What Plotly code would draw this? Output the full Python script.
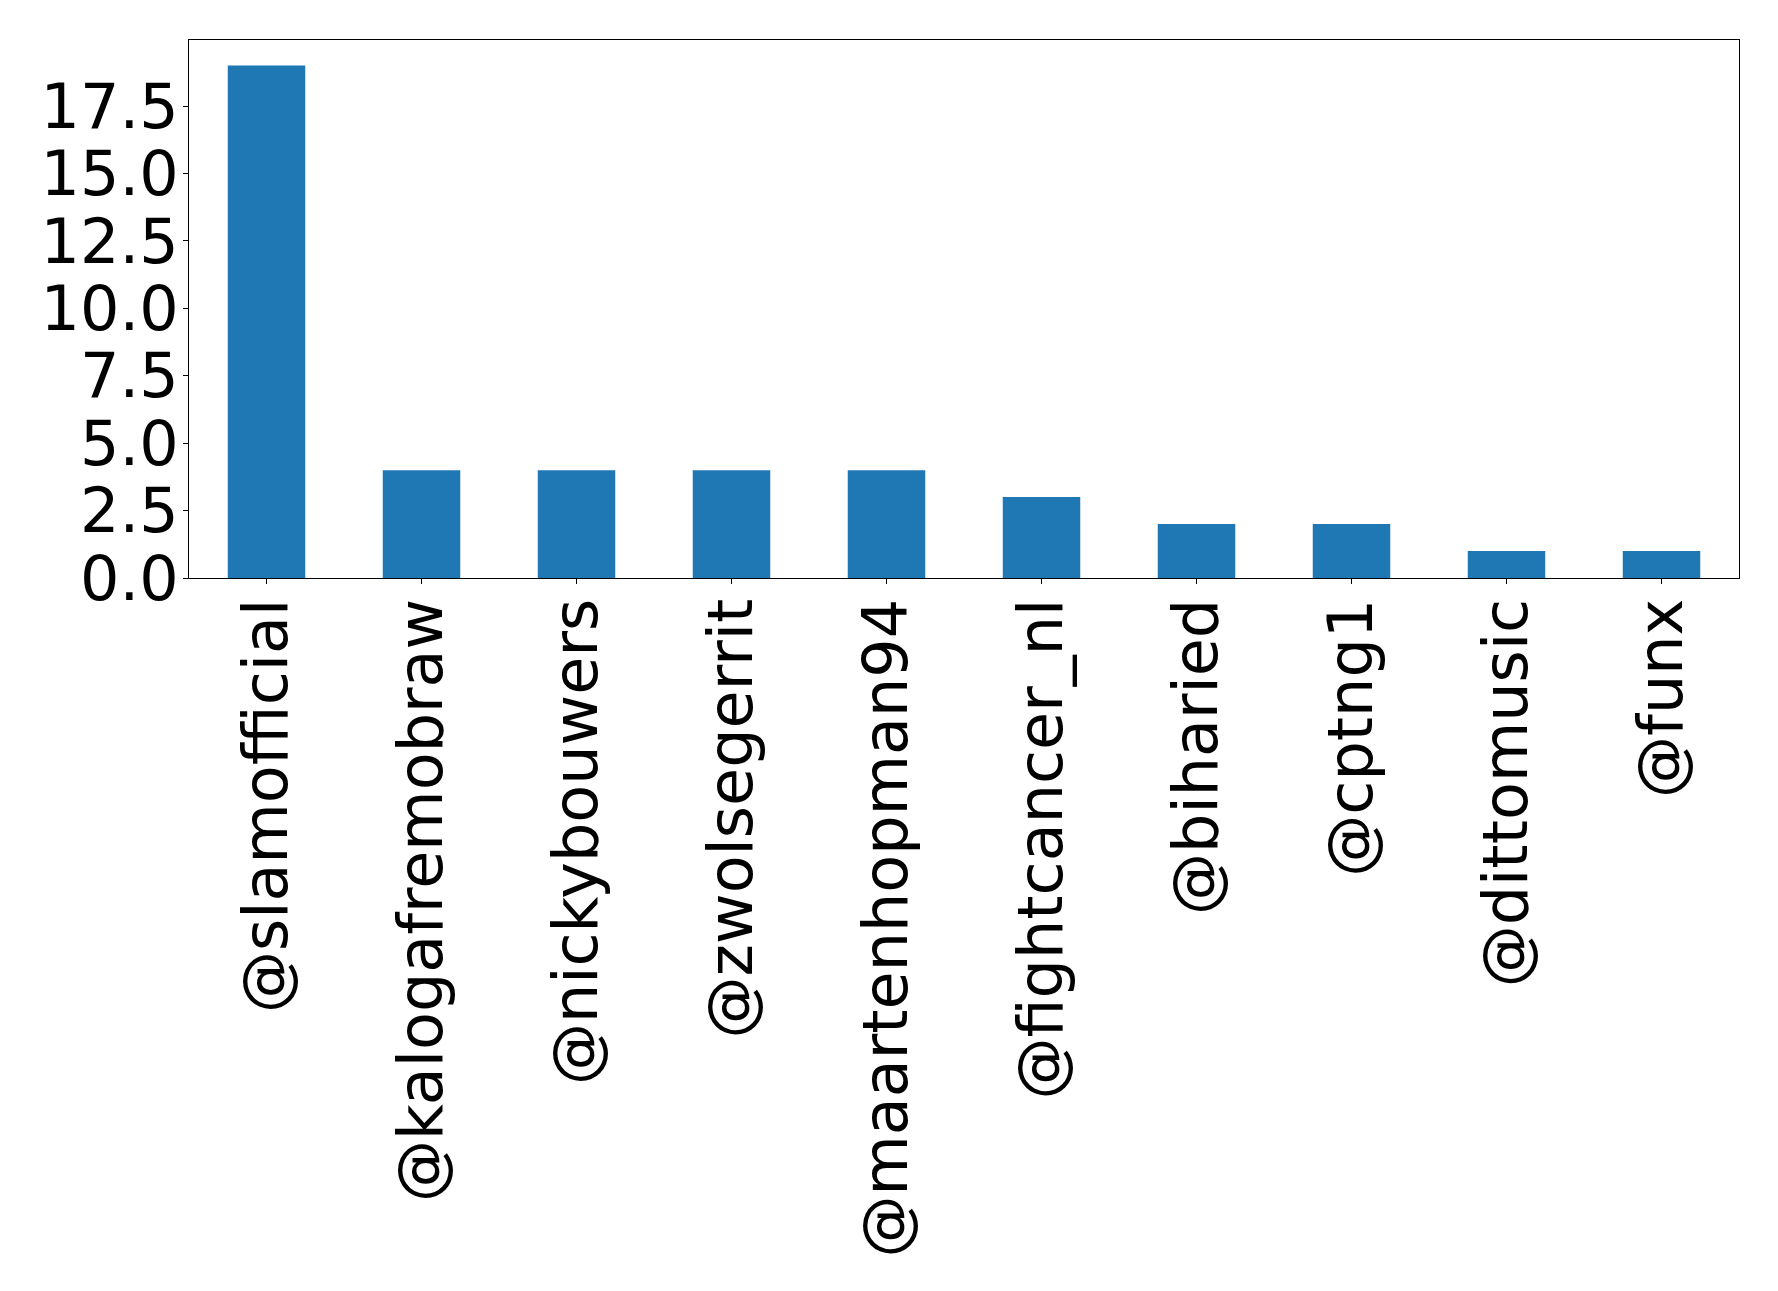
import plotly.graph_objects as go

# Mention counts per account
accounts = ["@slamofficial", "@kalogafremobraw", "@nickybouwers", "@zwolsegerrit",
            "@maartenhopman94", "@fightcancer_nl", "@biharied", "@cptng1",
            "@dittomusic", "@funx"]
counts = [19, 4, 4, 4, 4, 3, 2, 2, 1, 1]

y_ticks = [0, 2.5, 5, 7.5, 10, 12.5, 15, 17.5]

fig = go.Figure(
    go.Bar(
        x=list(range(len(accounts))),
        y=counts,
        width=0.5,
        marker=dict(color="#1f77b4", line=dict(width=0)),
    )
)

axis_font = dict(family="DejaVu Sans", size=62, color="black")

fig.update_layout(
    width=1778,
    height=1291,
    margin=dict(l=189, r=39, t=40, b=713),
    paper_bgcolor="white",
    plot_bgcolor="white",
    showlegend=False,
    xaxis=dict(
        range=[-0.5, len(accounts) - 0.5],
        tickmode="array",
        tickvals=list(range(len(accounts))),
        ticktext=accounts,
        tickangle=-90,
        tickfont=axis_font,
        ticks="outside",
        ticklen=5,
        tickwidth=1,
        tickcolor="black",
        showline=True,
        linecolor="black",
        linewidth=1,
        mirror=True,
        showgrid=False,
        zeroline=False,
        ticklabelstandoff=-10,
    ),
    yaxis=dict(
        range=[0, 19.95],
        tickmode="array",
        tickvals=y_ticks,
        ticktext=[f"{v:.1f}" for v in y_ticks],
        tickfont=axis_font,
        ticks="outside",
        ticklen=5,
        tickwidth=1,
        tickcolor="black",
        showline=True,
        linecolor="black",
        linewidth=1,
        mirror=True,
        showgrid=False,
        zeroline=False,
        ticklabelstandoff=-8,
    ),
)

fig.write_html("out.html")
